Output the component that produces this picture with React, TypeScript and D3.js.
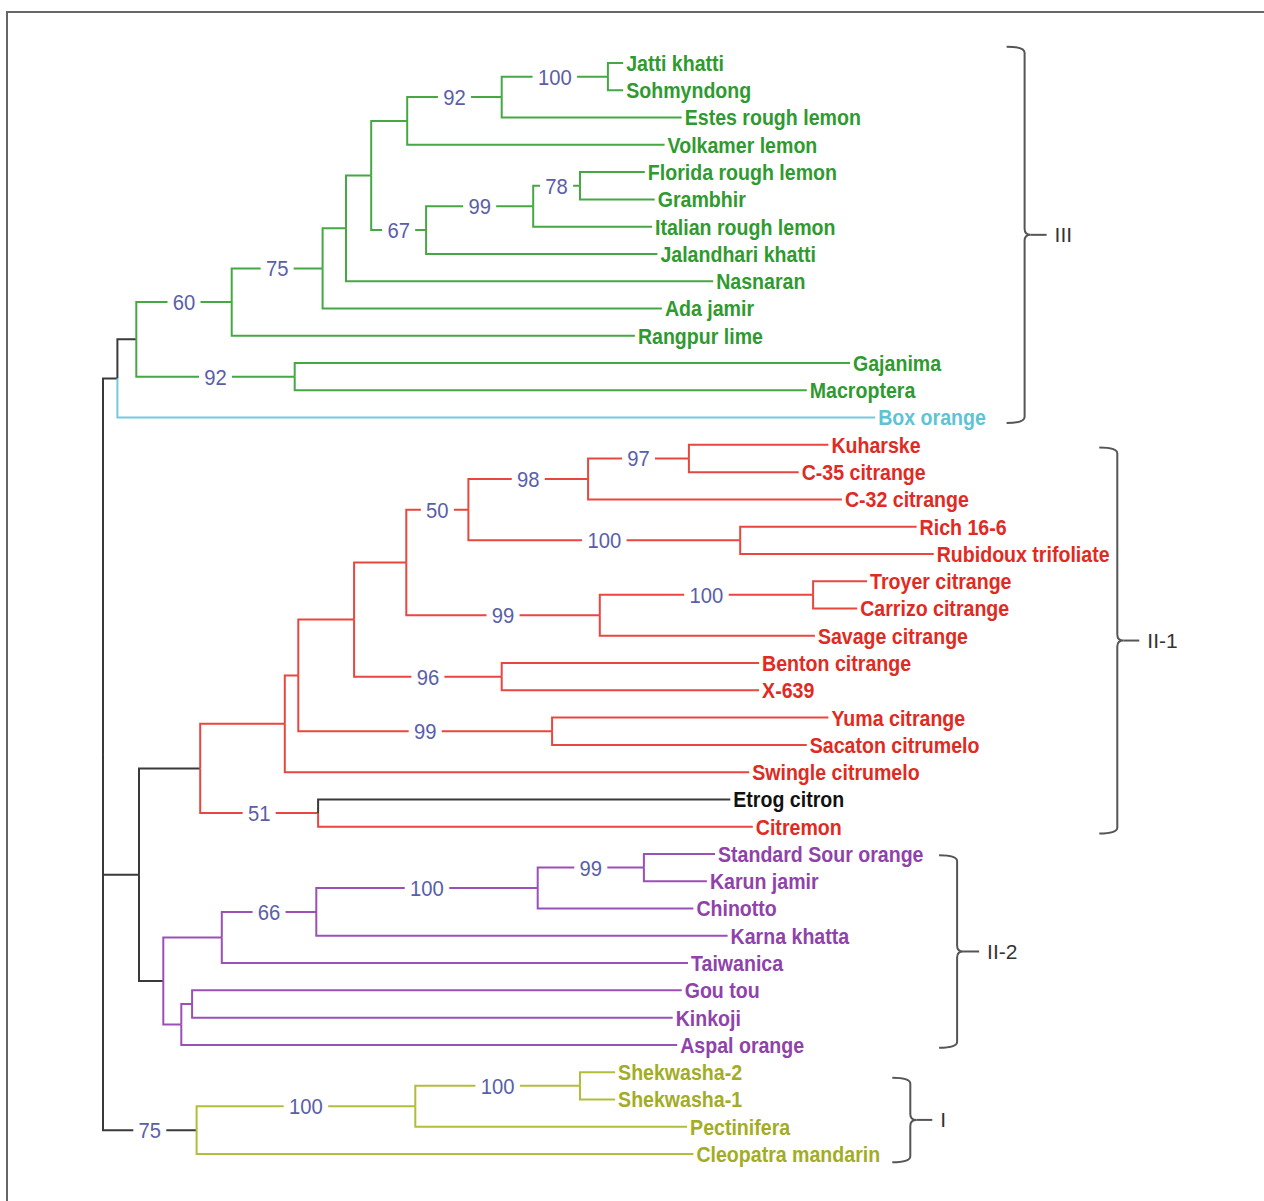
import React, { useMemo } from "react"
import * as d3 from "d3"

// leaves, top to bottom
const leafNames = [
  "Jatti khatti", "Sohmyndong", "Estes rough lemon", "Volkamer lemon",
  "Florida rough lemon", "Grambhir", "Italian rough lemon", "Jalandhari khatti",
  "Nasnaran", "Ada jamir", "Rangpur lime", "Gajanima", "Macroptera", "Box orange",
  "Kuharske", "C-35 citrange", "C-32 citrange", "Rich 16-6", "Rubidoux trifoliate",
  "Troyer citrange", "Carrizo citrange", "Savage citrange", "Benton citrange", "X-639",
  "Yuma citrange", "Sacaton citrumelo", "Swingle citrumelo", "Etrog citron", "Citremon",
  "Standard Sour orange", "Karun jamir", "Chinotto", "Karna khatta", "Taiwanica",
  "Gou tou", "Kinkoji", "Aspal orange",
  "Shekwasha-2", "Shekwasha-1", "Pectinifera", "Cleopatra mandarin"
]

// distance from root of each leaf tip
const leafDist = [
  57.8, 57.8, 64.3, 62.4, 60.2, 61.3, 61.0, 61.6, 67.8, 62.1, 59.1, 83.0, 78.2, 85.8,
  80.6, 77.3, 82.1, 90.4, 92.3, 84.9, 83.8, 79.1, 72.9, 72.9, 80.6, 78.2, 71.8, 69.7, 72.2,
  68.0, 67.1, 65.6, 69.4, 65.0, 64.3, 63.3, 63.8,
  56.9, 56.9, 64.9, 65.6
]

const leafClade = [
  "g", "g", "g", "g", "g", "g", "g", "g", "g", "g", "g", "g", "g", "c",
  "r", "r", "r", "r", "r", "r", "r", "r", "r", "r", "r", "r", "r", "k", "r",
  "p", "p", "p", "p", "p", "p", "p", "p",
  "y", "y", "y", "y"
]

// internal nodes: children, distance from root, bootstrap, branch colour
const nodes = [
  { id: "root", kids: ["A", "X", "y75"], dist: 0, boot: null, clade: "k" },
  { id: "A", kids: ["B", "Box orange"], dist: 1.6, boot: null, clade: "k" },
  { id: "B", kids: ["g60", "g92b"], dist: 3.7, boot: null, clade: "k" },
  { id: "g60", kids: ["g75", "Rangpur lime"], dist: 14.3, boot: 60, clade: "g" },
  { id: "g92b", kids: ["Gajanima", "Macroptera"], dist: 21.3, boot: 92, clade: "g" },
  { id: "g75", kids: ["gC", "Ada jamir"], dist: 24.4, boot: 75, clade: "g" },
  { id: "gC", kids: ["gD", "Nasnaran"], dist: 27.0, boot: null, clade: "g" },
  { id: "gD", kids: ["gE", "g67"], dist: 29.8, boot: null, clade: "g" },
  { id: "gE", kids: ["g92", "Volkamer lemon"], dist: 33.8, boot: null, clade: "g" },
  { id: "g92", kids: ["g100", "Estes rough lemon"], dist: 44.3, boot: 92, clade: "g" },
  { id: "g100", kids: ["Jatti khatti", "Sohmyndong"], dist: 56.1, boot: 100, clade: "g" },
  { id: "g67", kids: ["g99", "Jalandhari khatti"], dist: 35.9, boot: 67, clade: "g" },
  { id: "g99", kids: ["g78", "Italian rough lemon"], dist: 47.8, boot: 99, clade: "g" },
  { id: "g78", kids: ["Florida rough lemon", "Grambhir"], dist: 53.0, boot: 78, clade: "g" },
  { id: "X", kids: ["R", "P"], dist: 4.0, boot: null, clade: "k" },
  { id: "R", kids: ["r1", "r51"], dist: 10.8, boot: null, clade: "k" },
  { id: "r1", kids: ["r2", "Swingle citrumelo"], dist: 20.2, boot: null, clade: "r" },
  { id: "r2", kids: ["r3", "r99b"], dist: 21.7, boot: null, clade: "r" },
  { id: "r3", kids: ["r4", "r96"], dist: 27.9, boot: null, clade: "r" },
  { id: "r4", kids: ["r50", "r99a"], dist: 33.7, boot: null, clade: "r" },
  { id: "r50", kids: ["r98", "r100a"], dist: 40.6, boot: 50, clade: "r" },
  { id: "r98", kids: ["r97", "C-32 citrange"], dist: 53.9, boot: 98, clade: "r" },
  { id: "r97", kids: ["Kuharske", "C-35 citrange"], dist: 65.1, boot: 97, clade: "r" },
  { id: "r100a", kids: ["Rich 16-6", "Rubidoux trifoliate"], dist: 70.8, boot: 100, clade: "r" },
  { id: "r99a", kids: ["r100b", "Savage citrange"], dist: 55.2, boot: 99, clade: "r" },
  { id: "r100b", kids: ["Troyer citrange", "Carrizo citrange"], dist: 78.9, boot: 100, clade: "r" },
  { id: "r96", kids: ["Benton citrange", "X-639"], dist: 44.3, boot: 96, clade: "r" },
  { id: "r99b", kids: ["Yuma citrange", "Sacaton citrumelo"], dist: 49.9, boot: 99, clade: "r" },
  { id: "r51", kids: ["Etrog citron", "Citremon"], dist: 23.9, boot: 51, clade: "r" },
  { id: "P", kids: ["p1", "p2"], dist: 6.7, boot: null, clade: "k" },
  { id: "p1", kids: ["p66", "Taiwanica"], dist: 13.2, boot: null, clade: "p" },
  { id: "p66", kids: ["p100", "Karna khatta"], dist: 23.7, boot: 66, clade: "p" },
  { id: "p100", kids: ["p99", "Chinotto"], dist: 48.3, boot: 100, clade: "p" },
  { id: "p99", kids: ["Standard Sour orange", "Karun jamir"], dist: 60.1, boot: 99, clade: "p" },
  { id: "p2", kids: ["p3", "Aspal orange"], dist: 8.7, boot: null, clade: "p" },
  { id: "p3", kids: ["Gou tou", "Kinkoji"], dist: 9.9, boot: null, clade: "p" },
  { id: "y75", kids: ["y100a", "Cleopatra mandarin"], dist: 10.4, boot: 75, clade: "k" },
  { id: "y100a", kids: ["y100b", "Pectinifera"], dist: 34.7, boot: 100, clade: "y" },
  { id: "y100b", kids: ["Shekwasha-2", "Shekwasha-1"], dist: 53.0, boot: 100, clade: "y" }
]

// cluster braces: label, span in leaf rows, position in distance units
const clusterLabels = ["III", "II-1", "II-2", "I"]
const clusterTop = [-0.6, 14.1, 29.05, 37.2]
const clusterBottom = [13.2, 28.25, 36.1, 40.3]
const clusterDist = [102.4, 112.7, 94.9, 89.7]

const lineColor = { g: "#45a845", r: "#e8473f", p: "#9a50b6", y: "#b2bd3c", c: "#72cadb", k: "#3a3a3a" }
const textColor = { g: "#2f9a2f", r: "#e12a22", p: "#8f42aa", y: "#a2ad25", c: "#5fc3d5", k: "#111111" }
const bootColor = "#5a5ea8"
const font = "'Liberation Sans', Arial, sans-serif"

const App = () => {
  const xs = d3.scaleLinear().domain([0, 100]).range([103, 1003])
  const ys = d3.scaleLinear().domain([0, leafNames.length - 1]).range([63, 1154])

  const tree = useMemo(() => {
    const byId = new Map(nodes.map(n => [n.id, n]))
    const root = d3.hierarchy("root", (id: string) => byId.get(id)?.kids)
    const pos = new Map()
    root.eachAfter(n => {
      const id = n.data as string
      if (!n.children) {
        const i = leafNames.indexOf(id)
        pos.set(n, { x: xs(leafDist[i]), y: ys(i), clade: leafClade[i], leaf: i, boot: null })
      } else {
        const info = byId.get(id)
        const first = pos.get(n.children[0])
        const last = pos.get(n.children[n.children.length - 1])
        pos.set(n, { x: xs(info.dist), y: (first.y + last.y) / 2, clade: info.clade, leaf: -1, boot: info.boot })
      }
    })
    return { root, pos }
  }, [])

  const { root, pos } = tree
  const links = root.descendants().filter(n => n.parent)

  return (
    <svg width={1264} height={1201} style={{ position: "absolute", left: 0, top: 0, background: "#fff" }}>
      <path d="M7,1201 V12 H1264" fill="none" stroke="#666" strokeWidth={2} />

      {links.map((n, i) => {
        const p = pos.get(n.parent)
        const c = pos.get(n)
        return (
          <path key={"l" + i} d={`M${p.x},${p.y} V${c.y} H${c.x}`}
            fill="none" stroke={lineColor[c.clade]} strokeWidth={2} />
        )
      })}

      {links.filter(n => pos.get(n).boot != null).map((n, i) => {
        const p = pos.get(n.parent)
        const c = pos.get(n)
        const cx = (p.x + c.x) / 2
        const label = String(c.boot)
        const w = label.length * 11.5 + 10
        return (
          <g key={"b" + i}>
            <rect x={cx - w / 2} y={c.y - 5} width={w} height={10} fill="#fff" />
            <text transform={`translate(${cx},${c.y}) scale(0.92,1)`} dy="0.36em" textAnchor="middle"
              fontFamily={font} fontSize={22} fill={bootColor}>{label}</text>
          </g>
        )
      })}

      {root.leaves().map((n, i) => {
        const c = pos.get(n)
        return (
          <text key={"t" + i} transform={`translate(${c.x + 3},${c.y}) scale(0.89,1)`} dy="0.36em"
            fontFamily={font} fontSize={22} fontWeight="bold" fill={textColor[c.clade]}>
            {leafNames[c.leaf]}
          </text>
        )
      })}

      {clusterLabels.map((lab, i) => {
        const x = xs(clusterDist[i])
        const top = ys(clusterTop[i])
        const bot = ys(clusterBottom[i])
        const mid = (top + bot) / 2
        const h = 18
        const d = `M${x - h},${top} Q${x},${top} ${x},${top + 6} V${mid - 6} Q${x},${mid} ${x + 6},${mid}` +
          ` Q${x},${mid} ${x},${mid + 6} V${bot - 6} Q${x},${bot} ${x - h},${bot}`
        return (
          <g key={"c" + i}>
            <path d={d} fill="none" stroke="#555" strokeWidth={2} />
            <line x1={x + 6} x2={x + 22} y1={mid} y2={mid} stroke="#555" strokeWidth={2} />
            <text x={x + 30} y={mid} dy="0.36em" fontFamily={font} fontSize={21} fill="#333">{lab}</text>
          </g>
        )
      })}
    </svg>
  )
}

export default App
